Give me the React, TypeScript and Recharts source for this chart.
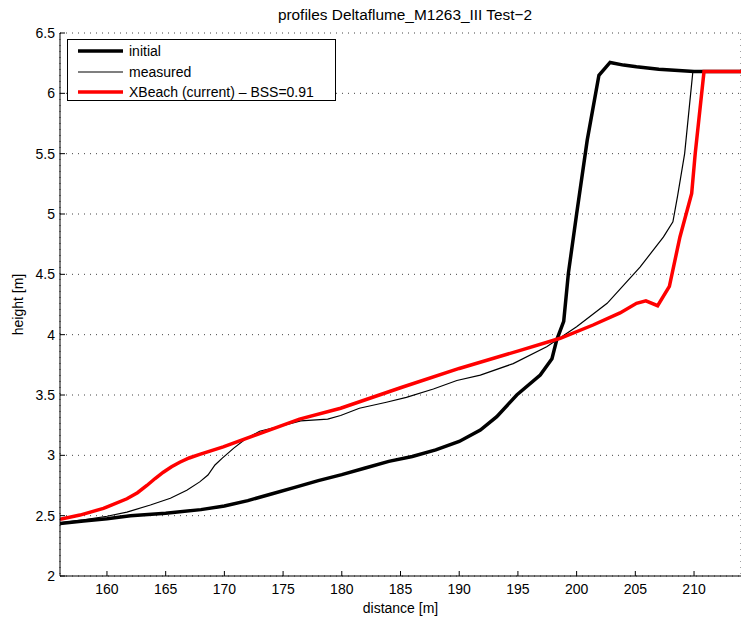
import React from 'react';
import { LineChart, Line, XAxis, YAxis, CartesianGrid, Legend } from 'recharts';

const xTicks = [160, 165, 170, 175, 180, 185, 190, 195, 200, 205, 210];
const yTicks = [2, 2.5, 3, 3.5, 4, 4.5, 5, 5.5, 6, 6.5];

const initialX = [156, 158, 160, 162, 165, 168, 170, 172, 174, 176, 178, 180, 182, 184, 186, 188, 190, 191.8, 193.2, 194.9, 196.9, 197.9, 198.3, 198.9, 199.3, 200.0, 200.9, 201.9, 202.85, 204, 205.1, 207, 210, 214];
const initialY = [2.435, 2.455, 2.475, 2.5, 2.52, 2.55, 2.58, 2.625, 2.68, 2.735, 2.79, 2.84, 2.895, 2.95, 2.99, 3.045, 3.115, 3.21, 3.32, 3.5, 3.665, 3.8, 3.955, 4.11, 4.51, 5.0, 5.61, 6.15, 6.256, 6.234, 6.22, 6.2, 6.18, 6.18];

const measuredX = [156, 158, 160, 161.7, 163.7, 165.4, 166.8, 167.9, 168.6, 169.2, 169.8, 170.8, 171.8, 173, 174.7, 176.5, 178.8, 179.9, 181.5, 183.8, 185.5, 187.8, 189.8, 191.8, 194.6, 197.45, 200, 202.6, 205.4, 207.4, 208.2, 208.6, 209.2, 209.9, 214];
const measuredY = [2.44, 2.465, 2.495, 2.53, 2.588, 2.644, 2.71, 2.78, 2.837, 2.92, 2.975, 3.06, 3.135, 3.2, 3.24, 3.285, 3.3, 3.33, 3.39, 3.44, 3.48, 3.55, 3.62, 3.665, 3.76, 3.9, 4.065, 4.26, 4.56, 4.81, 4.935, 5.15, 5.5, 6.18, 6.18];

const xbeachX = [156, 157.7, 159.7, 161.7, 162.6, 163.4, 164.1, 164.8, 165.5, 166.2, 167, 167.9, 169.9, 173, 176.4, 179.9, 185, 190, 195.2, 198.6, 201.4, 203.7, 205.1, 205.9, 206.9, 207.9, 208.8, 209.8, 210.1, 210.85, 214];
const xbeachY = [2.47, 2.505, 2.56, 2.64, 2.69, 2.75, 2.808, 2.86, 2.905, 2.943, 2.978, 3.008, 3.07, 3.18, 3.3, 3.39, 3.56, 3.72, 3.87, 3.97, 4.08, 4.18, 4.26, 4.28, 4.24, 4.4, 4.81, 5.17, 5.5, 6.18, 6.18];

const toPoints = (xs: number[], ys: number[]) => xs.map((x, i) => ({ x, y: ys[i] }));

const initialData = toPoints(initialX, initialY);
const measuredData = toPoints(measuredX, measuredY);
const xbeachData = toPoints(xbeachX, xbeachY);

const legendItems = [
  { name: 'initial', color: '#000', width: 3.5 },
  { name: 'measured', color: '#000', width: 1.2 },
  { name: 'XBeach (current) \u2013 BSS=0.91', color: '#ff0000', width: 3.5 },
];

const FONT = '"Liberation Sans", Arial, Helvetica, sans-serif';

const LegendBox = () => (
  <div
    style={{
      width: 269,
      height: 62,
      border: '1px solid #000',
      background: '#fff',
      boxSizing: 'border-box',
      fontFamily: FONT,
      fontSize: 14,
      paddingTop: 1,
    }}
  >
    {legendItems.map((it) => (
      <div key={it.name} style={{ display: 'flex', alignItems: 'center', height: 20.5 }}>
        <svg width={60} height={10} style={{ flex: 'none' }}>
          <line x1={10} x2={55} y1={5} y2={5} stroke={it.color} strokeWidth={it.width} />
        </svg>
        <span style={{ marginLeft: 1, whiteSpace: 'nowrap' }}>{it.name}</span>
      </div>
    ))}
  </div>
);

export default function App() {
  return (
    <div style={{ position: 'relative', width: 741, height: 623, background: '#fff', fontFamily: FONT }}>
      <style>{`body{margin:0;}`}</style>
      <div
        style={{
          position: 'absolute',
          left: 405,
          top: 5,
          transform: 'translateX(-50%)',
          fontSize: 15.4,
          whiteSpace: 'nowrap',
          fontFamily: FONT,
          lineHeight: '20px',
        }}
      >
        profiles Deltaflume_M1263_III Test{'\u2212'}2
      </div>
      <LineChart width={741} height={623} margin={{ top: 33, right: 0, bottom: 0, left: 0 }}>
        <CartesianGrid stroke="#444" strokeDasharray="1 5" />
        <XAxis
          xAxisId="bottom"
          dataKey="x"
          type="number"
          domain={[156, 214]}
          ticks={xTicks}
          allowDataOverflow
          height={47}
          tickSize={-5}
          tickMargin={13}
          stroke="#000"
          tick={{ fill: '#000', fontSize: 14, fontFamily: FONT }}
          label={{ value: 'distance [m]', position: 'insideBottom', offset: 10, fill: '#000', fontSize: 14, fontFamily: FONT }}
        />
        <XAxis
          xAxisId="top"
          dataKey="x"
          type="number"
          orientation="top"
          domain={[156, 214]}
          ticks={xTicks}
          allowDataOverflow
          height={0}
          tickSize={-5}
          tick={false}
          stroke="#000"
        />
        <YAxis
          dataKey="y"
          type="number"
          domain={[2, 6.5]}
          ticks={yTicks}
          allowDataOverflow
          width={60}
          tickSize={-5}
          tickMargin={10}
          stroke="#000"
          tick={{ fill: '#000', fontSize: 14, fontFamily: FONT }}
          label={{ value: 'height [m]', angle: -90, position: 'insideLeft', offset: 18, fill: '#000', fontSize: 14, fontFamily: FONT, style: { textAnchor: 'middle' } }}
        />
        <Line xAxisId="bottom" data={initialData} dataKey="y" name="initial" stroke="#000" strokeWidth={3.5} dot={false} activeDot={false} isAnimationActive={false} type="linear" />
        <Line xAxisId="bottom" data={measuredData} dataKey="y" name="measured" stroke="#000" strokeWidth={1.2} dot={false} activeDot={false} isAnimationActive={false} type="linear" />
        <Line xAxisId="bottom" data={xbeachData} dataKey="y" name="xbeach" stroke="#ff0000" strokeWidth={3.5} dot={false} activeDot={false} isAnimationActive={false} type="linear" />
        <Legend
          layout="vertical"
          align="center"
          verticalAlign="middle"
          content={<LegendBox />}
          wrapperStyle={{ position: 'absolute', left: 67, top: 39, width: 269, height: 62 }}
        />
      </LineChart>
    </div>
  );
}
